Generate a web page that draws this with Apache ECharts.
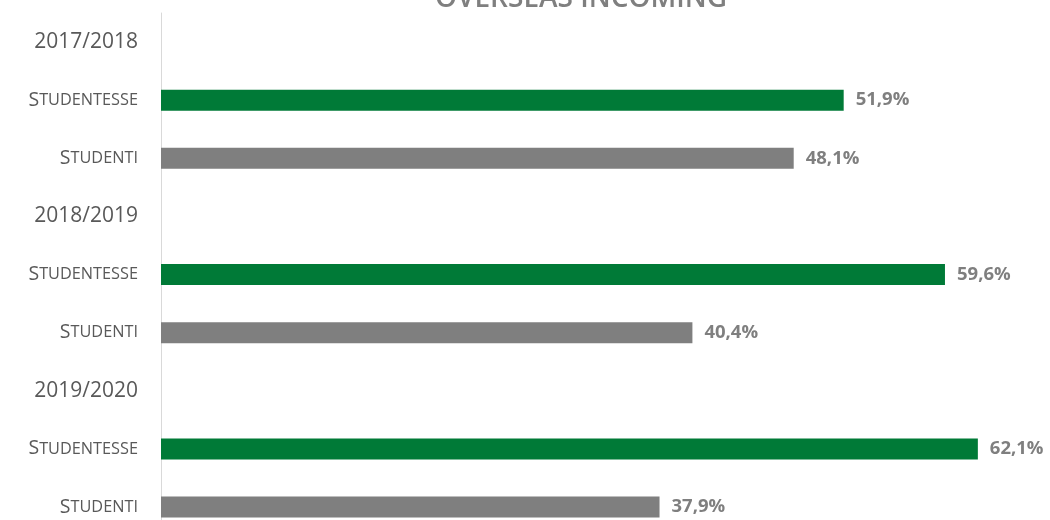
<!DOCTYPE html>
<html>
<head>
<meta charset="utf-8">
<script src="https://cdn.jsdelivr.net/npm/echarts@6/dist/echarts.min.js"></script>
<style>
  html, body { margin: 0; padding: 0; background: #fff; }
  #chart { width: 1050px; height: 520px; }
</style>
</head>
<body>
<div id="chart"></div>
<script>
const years = ['2017/2018', '2018/2019', '2019/2020'];
const groups = ['Studentesse', 'Studenti'];
const female = [51.9, 59.6, 62.1];
const male = [48.1, 40.4, 37.9];
const colors = ['#007A37', '#7F7F7F'];

// one row per year header, then one per group
const rows = [];
const data = [];
years.forEach((y, i) => {
  rows.push('Y|' + y);
  data.push('-');
  [female[i], male[i]].forEach((v, j) => {
    rows.push('G|' + groups[j]);
    data.push({ value: v, itemStyle: { color: colors[j] } });
  });
});

const chart = echarts.init(document.getElementById('chart'));
chart.setOption({
  animation: false,
  title: {
    text: 'OVERSEAS INCOMING',
    left: 430,
    top: -20,
    textStyle: { fontFamily: 'Open Sans', fontSize: 28, fontWeight: 600, color: '#7F7F7F' }
  },
  grid: [
    { left: 161, top: 42, right: 34, bottom: 13 },
    // only carries the vertical axis line over the full height
    { left: 161, top: 13, width: 1, bottom: 0 }
  ],
  xAxis: [
    { type: 'value', min: 0, max: 65, show: false, gridIndex: 0 },
    { type: 'value', show: false, gridIndex: 1 }
  ],
  yAxis: [{
    type: 'category',
    gridIndex: 0,
    inverse: true,
    boundaryGap: false,
    data: rows,
    axisTick: { show: false },
    axisLine: { show: false },
    axisLabel: {
      margin: 23,
      formatter: v => {
        const [k, t] = v.split('|');
        if (k === 'Y') return '{y|' + t + '}';
        const up = t.toUpperCase();
        return '{c|' + up[0] + '}{s|' + up.slice(1) + '}';
      },
      rich: {
        y: { fontFamily: 'Open Sans', fontSize: 21, color: '#595959' },
        c: { fontFamily: 'Open Sans', fontSize: 19.5, color: '#595959' },
        s: { fontFamily: 'Open Sans', fontSize: 16.3, color: '#595959' }
      }
    }
  }, {
    type: 'value',
    gridIndex: 1,
    axisTick: { show: false },
    axisLabel: { show: false },
    splitLine: { show: false },
    axisLine: { show: true, lineStyle: { color: '#D9D9D9', width: 1 } }
  }],
  series: [{
    type: 'bar',
    data: data,
    barWidth: 21,
    label: {
      show: true,
      position: 'right',
      distance: 12,
      fontFamily: 'Open Sans',
      fontSize: 18.5,
      fontWeight: 'bold',
      color: '#7F7F7F',
      formatter: p => p.value.toFixed(1).replace('.', ',') + '%'
    }
  }]
});
</script>
</body>
</html>
